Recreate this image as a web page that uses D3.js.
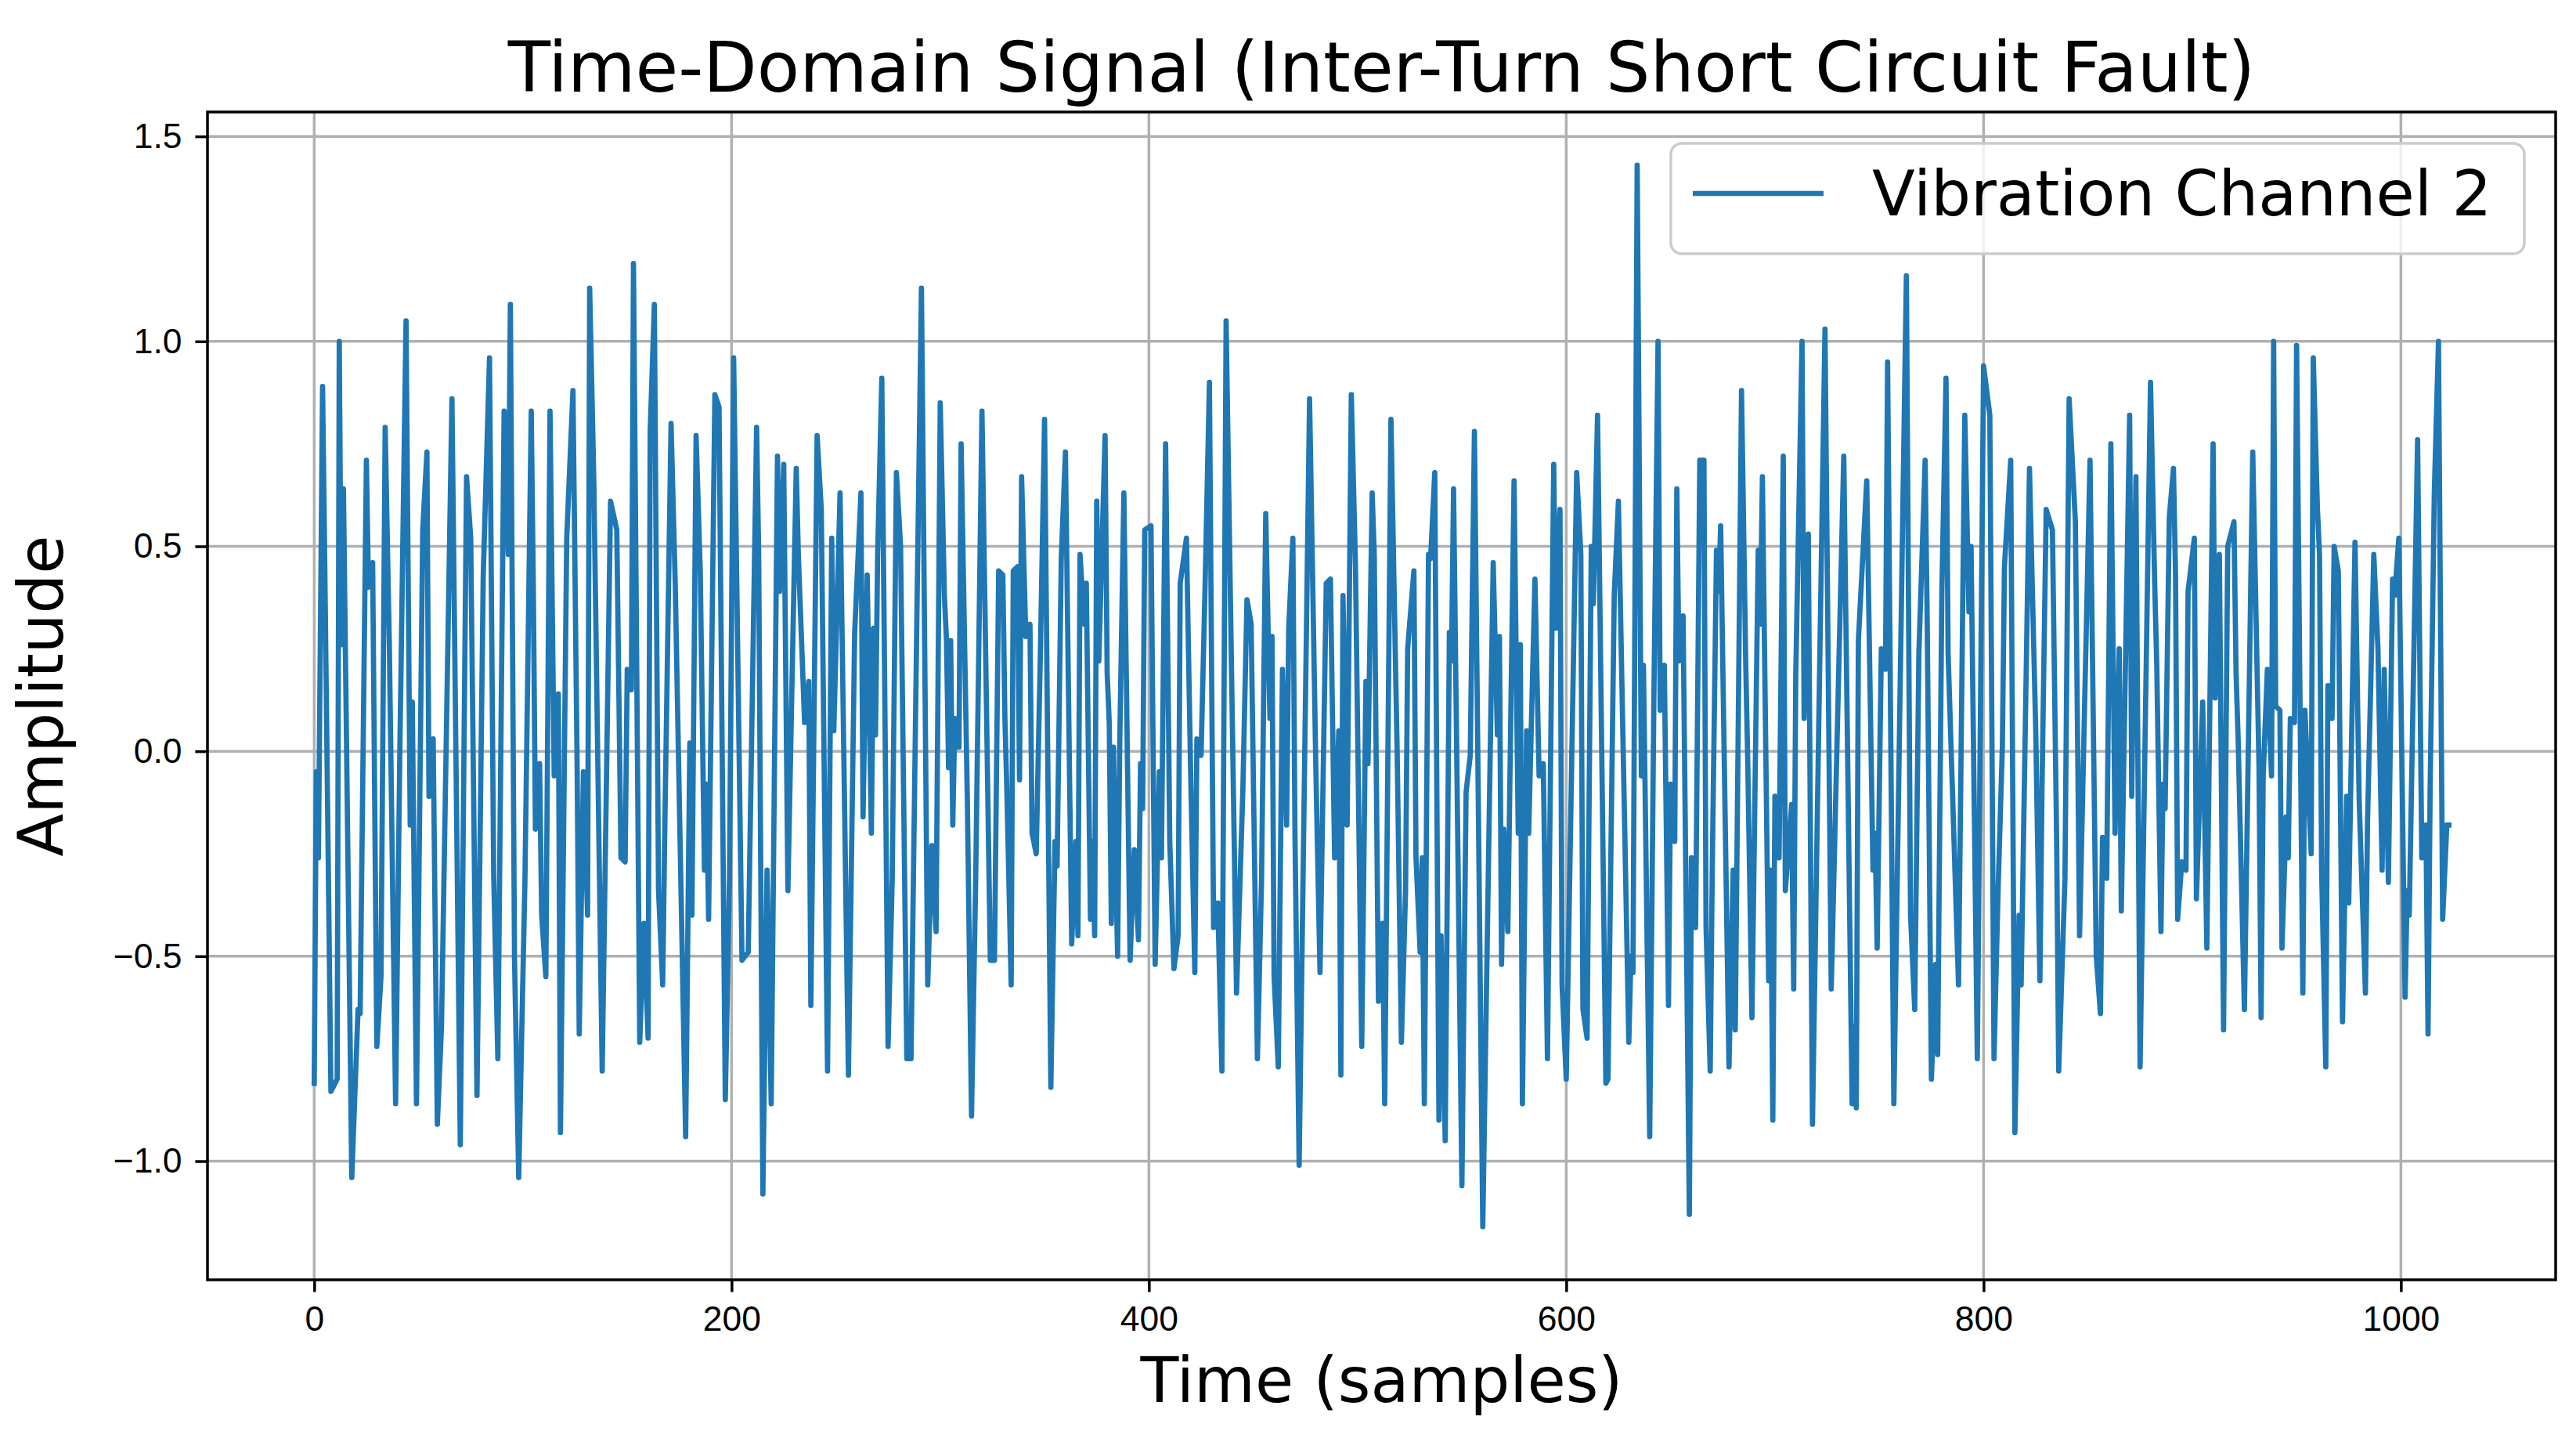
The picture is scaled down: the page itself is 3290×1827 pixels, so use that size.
<!DOCTYPE html>
<html>
<head>
<meta charset="utf-8">
<script src="https://cdn.jsdelivr.net/npm/d3@7"></script>
<style>
  html, body { margin: 0; padding: 0; background: #fff; }
  svg { display: block; font-family: "DejaVu Sans", sans-serif; }
  .axis path { display: none; }
  .axis line { stroke: #000; stroke-width: 3.5px; }
  .axis text { fill: #000; font-size: 44.4px; }
  .grid line { stroke: #b0b0b0; stroke-width: 3.5px; }
</style>
</head>
<body>
<svg id="chart" width="3290" height="1827"></svg>
<script>
// vertices of the trace (sample index / amplitude)
const sampleIdx = [
  0,1,2,4,5,8,11,12,13,14,18,21,22,25,26,28,30,32,34,36,39,41,44,46,47,49,52,54,55,57,59,61,66,70,73,75,78,81,84,86,88,91,93,94,96,98,
  101,104,105,106,108,109,111,113,115,117,118,121,124,126,127,129,131,132,134,138,142,145,147,149,150,152,153,156,158,160,161,163,165,167,168,171,173,178,180,181,183,185,187,188,189,192,194,197,199,201,
  205,208,212,213,215,217,219,222,223,225,227,231,232,235,237,238,241,243,246,248,249,252,256,259,262,263,265,267,268,269,270,272,275,277,279,281,284,286,289,291,294,296,298,300,302,303,304,305,306,307,
  309,310,313,315,317,320,324,326,328,330,331,332,334,335,337,338,339,341,343,344,346,348,350,353,355,356,358,360,363,365,366,367,369,370,372,373,374,375,376,379,380,381,382,383,385,386,388,391,393,395,396,397,398,401,403,405,406,408,410,
  412,414,415,418,420,422,423,425,427,429,431,433,435,437,442,445,447,449,452,454,456,458,459,460,462,463,464,466,467,469,470,472,477,480,482,485,487,489,491,492,493,495,497,499,502,504,505,507,508,510,512,513,
  516,519,521,523,524,527,528,530,531,532,534,535,537,539,540,542,544,545,546,550,552,554,556,560,565,567,568,569,570,572,575,577,578,579,581,582,585,587,589,591,594,595,597,598,600,605,607,608,610,612,613,615,
  619,620,623,625,627,630,631,632,634,636,637,640,642,644,645,647,649,650,652,653,654,656,659,660,662,664,666,667,669,670,672,673,674,678,680,681,684,686,687,689,692,693,694,697,698,699,700,702,704,705,708,709,710,713,714,716,718,
  724,727,733,737,738,739,740,744,747,748,749,751,753,754,757,763,765,767,769,772,773,775,777,778,780,782,783,788,791,793,794,797,800,803,805,807,809,810,813,815,817,818,822,
  825,827,828,830,833,835,836,839,841,844,846,851,854,856,857,859,861,863,865,866,870,871,873,875,880,882,883,885,886,887,889,891,892,893,895,897,898,901,902,905,907,910,911,913,915,917,920,921,922,925,
  929,932,933,934,936,938,939,940,942,943,945,946,947,949,950,953,954,957,958,960,961,962,964,965,967,968,970,972,974,975,978,980,983,984,987,989,991,992,994,996,997,999,1002,1003,1004,1008,1010,1012,1013,1014,1016,1018,1020,1022,1023
]
const amplitude = [
  -0.81,-0.05,-0.26,0.89,0.48,-0.83,-0.80,1.00,0.26,0.64,-1.04,-0.63,-0.64,0.71,0.40,0.46,-0.72,-0.55,0.79,0.26,-0.86,-0.01,1.05,-0.18,0.12,-0.86,0.54,0.73,-0.11,0.03,-0.91,-0.67,0.86,-0.96,0.67,0.52,-0.84,0.43,0.96,-0.30,-0.75,0.83,0.48,1.09,-0.51,-1.04,
  -0.31,0.83,0.40,-0.19,-0.03,-0.40,-0.55,0.83,-0.06,0.14,-0.93,0.52,0.88,-0.04,-0.69,-0.05,-0.40,1.13,0.66,-0.78,0.61,0.54,-0.26,-0.27,0.20,0.15,1.19,-0.71,-0.42,-0.70,0.78,1.09,-0.34,-0.57,-0.19,0.80,0.41,-0.94,0.02,-0.40,0.77,0.44,-0.29,-0.08,-0.41,0.87,0.84,-0.85,-0.31,0.96,
  -0.51,-0.49,0.79,0.48,-1.08,-0.29,-0.86,0.72,0.39,0.70,-0.34,0.69,0.48,0.07,0.17,-0.62,0.77,0.59,-0.78,0.52,0.05,0.63,-0.79,0.29,0.63,-0.16,0.43,-0.20,0.30,0.04,0.48,0.91,-0.72,-0.31,0.68,0.50,-0.75,-0.75,0.40,1.13,-0.57,-0.23,-0.44,0.85,0.38,0.27,-0.04,0.27,-0.18,0.08,
  0.01,0.75,-0.12,-0.89,-0.31,0.83,-0.51,-0.51,0.44,0.43,0.08,-0.11,-0.57,0.44,0.45,-0.07,0.67,0.28,0.31,-0.20,-0.25,0.24,0.81,-0.82,-0.22,-0.28,0.47,0.73,-0.47,-0.22,-0.45,0.48,0.31,0.41,-0.41,-0.22,-0.45,0.61,0.22,0.77,0.19,0.07,-0.42,0.01,-0.50,0.01,0.63,-0.51,-0.24,-0.46,-0.03,-0.14,0.54,0.55,-0.52,-0.05,-0.26,0.75,-0.22,
  -0.53,-0.45,0.41,0.52,-0.05,-0.54,0.03,-0.01,0.42,0.90,-0.43,-0.37,-0.78,1.05,-0.59,-0.10,0.37,0.31,-0.75,-0.31,0.58,0.08,0.28,-0.55,-0.77,-0.29,0.20,-0.18,0.30,0.52,-0.20,-1.01,0.86,-0.04,-0.54,0.41,0.42,-0.26,0.05,-0.79,0.38,-0.18,0.87,0.45,-0.72,0.17,-0.03,0.63,0.48,-0.61,-0.42,-0.86,
  0.81,-0.01,-0.71,-0.34,0.25,0.44,-0.26,-0.49,-0.26,-0.86,0.48,0.47,0.68,-0.90,-0.45,-0.95,0.29,0.22,0.64,-1.06,-0.10,-0.01,0.78,-1.16,0.46,0.04,0.28,-0.52,-0.19,-0.44,0.66,-0.20,0.26,-0.86,0.05,-0.20,0.42,-0.06,-0.03,-0.75,0.70,0.30,0.59,-0.57,-0.80,0.68,0.48,-0.63,-0.70,0.50,0.36,0.82,
  -0.81,-0.80,0.38,0.61,0.08,-0.71,-0.50,-0.54,1.43,-0.06,0.21,-0.94,0.13,1.00,0.10,0.21,-0.62,-0.08,-0.22,0.64,0.22,0.33,-1.13,-0.26,-0.43,0.71,0.71,-0.43,-0.78,-0.28,0.49,0.39,0.55,-0.77,-0.29,-0.68,0.88,0.22,-0.03,-0.65,0.49,0.31,0.67,-0.56,-0.29,-0.90,-0.11,-0.26,0.72,-0.34,-0.13,-0.58,0.19,1.00,0.08,0.53,-0.91,
  1.03,-0.58,0.72,-0.86,-0.67,-0.87,0.27,0.66,-0.29,-0.20,-0.48,0.25,0.20,0.95,-0.86,1.16,-0.40,-0.63,0.24,0.71,0.31,-0.80,-0.52,-0.74,0.39,0.91,0.24,-0.57,0.82,0.34,0.50,-0.75,0.94,0.82,-0.75,-0.33,0.01,0.45,0.71,-0.93,-0.40,-0.57,0.69,
  0.05,-0.56,-0.09,0.59,0.54,-0.21,-0.78,-0.31,0.86,0.56,-0.45,0.71,-0.50,-0.64,-0.21,-0.31,0.75,-0.20,0.25,-0.39,0.82,-0.11,0.67,-0.77,0.90,0.41,0.21,-0.44,-0.08,-0.14,0.57,0.69,0.43,-0.41,-0.27,-0.29,0.39,0.52,-0.36,0.12,-0.48,0.75,0.13,0.48,-0.68,0.50,0.56,0.19,0.03,-0.63,
  0.73,-0.04,-0.65,-0.06,0.20,-0.06,1.00,0.11,0.10,-0.48,-0.16,-0.26,0.08,0.07,0.99,-0.59,0.10,-0.25,0.96,0.59,0.48,-0.29,-0.77,0.16,0.08,0.50,0.44,-0.66,-0.11,-0.37,0.51,-0.12,-0.59,-0.17,0.48,0.25,-0.29,0.20,-0.32,0.42,0.38,0.52,-0.60,-0.34,-0.40,0.76,-0.26,-0.18,-0.69,-0.09,0.63,1.00,-0.41,-0.18,-0.18
]
const xTicks = [0, 200, 400, 600, 800, 1000]
const yTicks = [-1.0, -0.5, 0.0, 0.5, 1.0, 1.5]
const seriesName = 'Vibration Channel 2'

const margins = {left: 265, top: 143, right: 26, bottom: 193}
const svg = d3.select('#chart')
const W = +svg.attr('width'), H = +svg.attr('height')
const w = W - margins.left - margins.right
const h = H - margins.top - margins.bottom

if (sampleIdx.length !== amplitude.length) console.error('length mismatch', sampleIdx.length, amplitude.length)
const points = d3.zip(sampleIdx, amplitude)

// matplotlib style 5% margins around the data
const xExt = d3.extent(sampleIdx), yExt = d3.extent(amplitude)
const xPad = (xExt[1] - xExt[0]) * 0.05, yPad = (yExt[1] - yExt[0]) * 0.05
const x = d3.scaleLinear().domain([xExt[0] - xPad, xExt[1] + xPad]).range([0, w])
const y = d3.scaleLinear().domain([yExt[0] - yPad, yExt[1] + yPad]).range([h, 0])

const g = svg.append('g').attr('transform', `translate(${margins.left},${margins.top})`)

// grid
g.append('g').attr('class', 'grid')
  .selectAll('line').data(xTicks).join('line')
  .attr('x1', d => x(d)).attr('x2', d => x(d)).attr('y1', 0).attr('y2', h)
g.append('g').attr('class', 'grid')
  .selectAll('line').data(yTicks).join('line')
  .attr('x1', 0).attr('x2', w).attr('y1', d => y(d)).attr('y2', d => y(d))

// signal
const line = d3.line().x(d => x(d[0])).y(d => y(d[1]))
g.append('path')
  .datum(points)
  .attr('fill', 'none')
  .attr('stroke', '#1f77b4')
  .attr('stroke-width', 6.7)
  .attr('stroke-linejoin', 'round')
  .attr('stroke-linecap', 'square')
  .attr('d', line)

const fmtY = d => d3.format('.1f')(d).replace('-', '\u2212')

g.append('g')
  .attr('class', 'axis axis--x')
  .attr('transform', `translate(0,${h})`)
  .call(d3.axisBottom(x).tickValues(xTicks).tickSize(15.6).tickPadding(18).tickFormat(d3.format('d')))

g.append('g')
  .attr('class', 'axis axis--y')
  .call(d3.axisLeft(y).tickValues(yTicks).tickSize(15.6).tickPadding(17).tickFormat(fmtY))

// spines
g.append('rect')
  .attr('width', w).attr('height', h)
  .attr('fill', 'none').attr('stroke', '#000').attr('stroke-width', 3.5)

// labels
svg.append('text')
  .attr('x', margins.left + w / 2).attr('y', 117)
  .attr('text-anchor', 'middle').attr('font-size', 88.9)
  .text('Time-Domain Signal (Inter-Turn Short Circuit Fault)')

svg.append('text')
  .attr('x', margins.left + w / 2).attr('y', 1790)
  .attr('text-anchor', 'middle').attr('font-size', 80)
  .text('Time (samples)')

svg.append('text')
  .attr('transform', `translate(80,${margins.top + h / 2}) rotate(-90)`)
  .attr('text-anchor', 'middle').attr('font-size', 80)
  .text('Amplitude')

// legend, upper right
const legW = 1090, legH = 141
const leg = g.append('g').attr('transform', `translate(${w - 40 - legW},40)`)
leg.append('rect')
  .attr('width', legW).attr('height', legH).attr('rx', 14)
  .attr('fill', '#fff').attr('fill-opacity', 0.8)
  .attr('stroke', '#cccccc').attr('stroke-width', 3.5)
leg.append('line')
  .attr('x1', 28).attr('x2', 195).attr('y1', 64).attr('y2', 64)
  .attr('stroke', '#1f77b4').attr('stroke-width', 6.7)
leg.append('text')
  .attr('x', 257).attr('y', 92).attr('font-size', 80)
  .text(seriesName)
</script>
</body>
</html>
